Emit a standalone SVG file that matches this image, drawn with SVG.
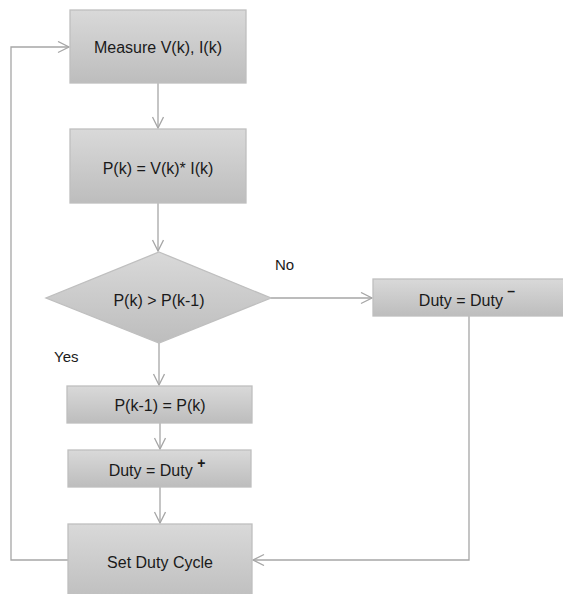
<svg xmlns="http://www.w3.org/2000/svg" width="563" height="594" viewBox="0 0 563 594">
<defs>
<linearGradient id="g" x1="0" y1="0" x2="0" y2="1">
<stop offset="0" stop-color="#d9d9d9"/>
<stop offset="1" stop-color="#bdbdbd"/>
</linearGradient>
<marker id="arr" markerUnits="userSpaceOnUse" markerWidth="14" markerHeight="14" refX="12" refY="6" orient="auto">
<path d="M1,0.5 L12,6 L1,11.5" fill="none" stroke="#a6a6a6" stroke-width="1.3"/>
</marker>
<style>
.box{fill:url(#g);stroke:#bfbfbf;stroke-width:1.3}
.t{font-family:"Liberation Sans",Arial,sans-serif;font-size:16px;fill:#1a1a1a;text-anchor:middle;dominant-baseline:central}
.l{font-family:"Liberation Sans",Arial,sans-serif;font-size:15px;fill:#1a1a1a}
.c{fill:none;stroke:#a6a6a6;stroke-width:1.3}
.sup{font-size:14px;font-weight:bold}
</style>
</defs>
<rect width="563" height="594" fill="#ffffff"/>
<g id="connectors">
<path class="c" d="M158,83 V128" marker-end="url(#arr)"/>
<path class="c" d="M158,203 V251" marker-end="url(#arr)"/>
<path class="c" d="M271,298 H372" marker-end="url(#arr)"/>
<path class="c" d="M159,343 V385" marker-end="url(#arr)"/>
<path class="c" d="M160,423 V449" marker-end="url(#arr)"/>
<path class="c" d="M160,487 V523" marker-end="url(#arr)"/>
<path class="c" d="M469,316 V560 H253" marker-end="url(#arr)"/>
<path class="c" d="M68,560 H11 V47 H69" marker-end="url(#arr)"/>
</g>
<g id="measure">
<rect class="box" x="70" y="10" width="176" height="73"/>
<text class="t" x="158" y="47">Measure V(k), I(k)</text>
</g>
<g id="power">
<rect class="box" x="70" y="129" width="176" height="74"/>
<text class="t" x="158" y="168">P(k) = V(k)* I(k)</text>
</g>
<g id="decision">
<polygon class="box" points="159,252 271,298 159,343 46,298"/>
<text class="t" x="159" y="300">P(k) &gt; P(k-1)</text>
</g>
<g id="duty-minus">
<rect class="box" x="373" y="279" width="195" height="37"/>
<text class="t" x="467" y="300">Duty = Duty <tspan class="sup" dy="-9">–</tspan></text>
</g>
<g id="update">
<rect class="box" x="67" y="386" width="185" height="37"/>
<text class="t" x="160" y="405">P(k-1) = P(k)</text>
</g>
<g id="duty-plus">
<rect class="box" x="68" y="450" width="183" height="37"/>
<text class="t" x="157" y="470">Duty = Duty <tspan class="sup" dy="-7">+</tspan></text>
</g>
<g id="set-duty">
<rect class="box" x="68" y="524" width="184" height="80"/>
<text class="t" x="160" y="562">Set Duty Cycle</text>
</g>
<g id="labels">
<text class="l" x="275" y="270">No</text>
<text class="l" x="54" y="362">Yes</text>
</g>
</svg>
